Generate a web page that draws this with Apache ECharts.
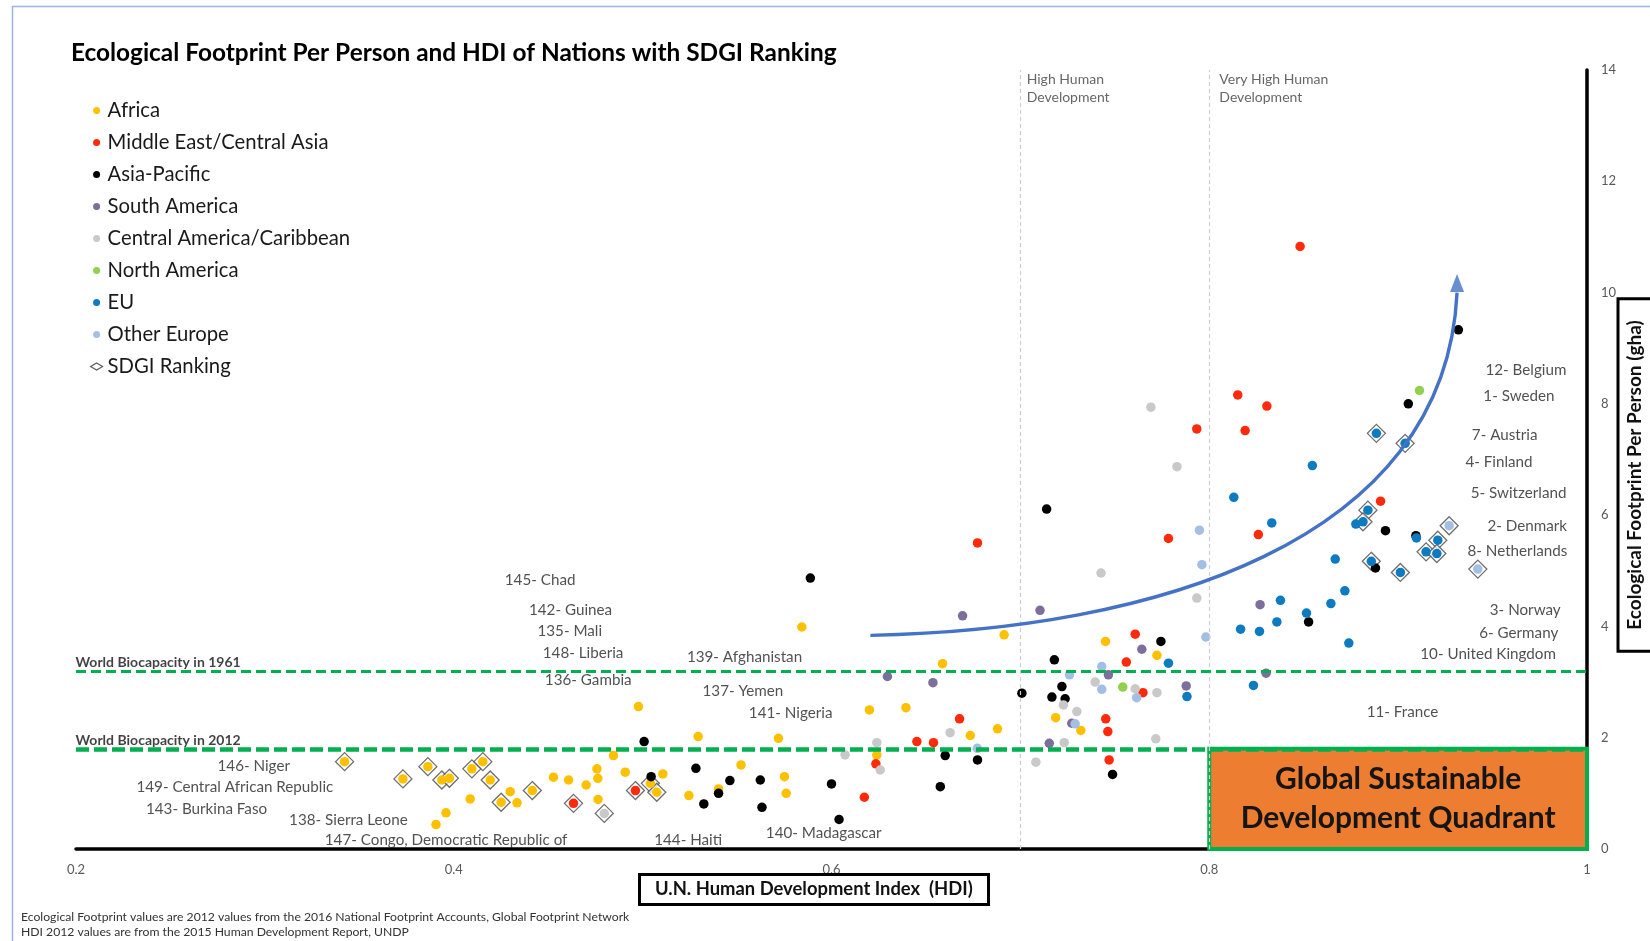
<!DOCTYPE html>
<html><head><meta charset="utf-8">
<script src="https://cdn.jsdelivr.net/npm/echarts@6/dist/echarts.min.js"></script>
<style>html,body{margin:0;padding:0;background:#fff}#c{width:1650px;height:941px}</style>
</head><body><div id="c"></div>
<script>
const F = 'Lato';
// ---- data (HDI, Ecological footprint gha) ----
const africa = [[0.3422,1.57],[0.3731,1.26],[0.3863,1.48],[0.3937,1.24],[0.3977,1.27],[0.4096,1.44],[0.4154,1.57],[0.4193,1.24],[0.4251,0.84],[0.4416,1.05],[0.5041,1.18],[0.5075,1.02],
  [0.3906,0.44],[0.3959,0.65],[0.4087,0.90],[0.4299,1.03],[0.4335,0.83],[0.4528,1.29],[0.4608,1.24],[0.4701,1.15],[0.4758,1.44],[0.4763,1.27],[0.4764,0.89],[0.4846,1.68],[0.4908,1.38],[0.4978,2.56],[0.5107,1.35],[0.5245,0.96],[0.5294,2.02],[0.5402,1.08],[0.5521,1.51],[0.5719,1.99],[0.5751,1.30],[0.5760,1.00],[0.5843,3.99],[0.6201,2.50],[0.6240,1.69],[0.6394,2.54],[0.6588,3.33],[0.6735,2.04],[0.6879,2.16],[0.6914,3.85],[0.7187,2.36],[0.7320,2.13],[0.7451,3.73],[0.7723,3.48]];
const middleEast = [[0.4634,0.82],[0.4962,1.05],[0.6174,0.93],[0.6235,1.53],[0.6452,1.93],[0.6540,1.91],[0.6678,2.34],[0.6773,5.50],[0.7452,2.34],[0.7463,2.11],[0.7470,1.60],[0.7561,3.36],[0.7608,3.86],[0.7649,2.81],[0.7784,5.58],[0.7934,7.55],[0.8151,8.16],[0.8190,7.52],[0.8260,5.65],[0.8305,7.96],[0.8481,10.83],[0.8907,6.25]];
const asiaPacific = [[0.5008,1.93],[0.5045,1.30],[0.5282,1.45],[0.5324,0.81],[0.5402,1.00],[0.5462,1.23],[0.5623,1.24],[0.5632,0.75],[0.5888,4.87],[0.6000,1.17],[0.6040,0.53],[0.6576,1.12],[0.6602,1.68],[0.6773,1.60],[0.7008,2.80],[0.7139,6.11],[0.7167,2.73],[0.7180,3.40],[0.7220,2.92],[0.7237,2.70],[0.7488,1.34],[0.7744,3.73],[0.8526,4.08],[0.8880,5.05],[0.8933,5.72],[0.9054,8.00],[0.9094,5.63],[0.9319,9.33]];
const southAmerica = [[0.6296,3.10],[0.6537,2.99],[0.6694,4.19],[0.7104,4.29],[0.7153,1.90],[0.7272,2.26],[0.7466,3.13],[0.7643,3.59],[0.7878,2.93],[0.8269,4.39],[0.8301,3.16]];
const centralAmerica = [[0.4797,0.64],[0.6072,1.69],[0.6240,1.91],[0.6258,1.42],[0.6628,2.09],[0.7082,1.56],[0.7228,2.59],[0.7232,1.91],[0.7299,2.47],[0.7396,3.00],[0.7427,4.96],[0.7608,2.88],[0.7691,7.94],[0.7717,1.98],[0.7723,2.81],[0.7829,6.87],[0.7934,4.51]];
const northAmerica = [[0.7542,2.91],[0.9113,8.24]];
const eu = [[0.7784,3.34],[0.7882,2.74],[0.8130,6.32],[0.8166,3.95],[0.8234,2.94],[0.8266,3.91],[0.8331,5.86],[0.8358,4.08],[0.8377,4.47],[0.8515,4.24],[0.8546,6.89],[0.8644,4.41],[0.8667,5.21],[0.8718,4.64],[0.8739,3.70],[0.8776,5.84],[0.8814,5.88],[0.8840,6.09],[0.8858,5.17],[0.8885,7.47],[0.9012,4.97],[0.9037,7.29],[0.9097,5.59],[0.9148,5.34],[0.9205,5.31],[0.9210,5.55]];
const otherEurope = [[0.6772,1.81],[0.7260,3.13],[0.7290,2.25],[0.7431,3.28],[0.7431,2.87],[0.7616,2.72],[0.7948,5.73],[0.7961,5.11],[0.7982,3.81],[0.9270,5.81],[0.9422,5.03]];
const sdgi = [[0.3422,1.57],[0.3731,1.26],[0.3863,1.48],[0.3937,1.24],[0.3977,1.27],[0.4096,1.44],[0.4154,1.57],[0.4193,1.24],[0.4251,0.84],[0.4416,1.05],[0.4634,0.82],[0.4797,0.64],[0.4962,1.05],[0.5041,1.18],[0.5075,1.02],
  [0.8885,7.47],[0.9037,7.29],[0.8840,6.09],[0.8814,5.88],[0.8858,5.17],[0.9012,4.97],[0.9270,5.81],[0.9210,5.55],[0.9148,5.34],[0.9205,5.31],[0.9422,5.03]];
const countryLabels = [['145- Chad',0.4273,4.82],['142- Guinea',0.4401,4.28],['135- Mali',0.4446,3.90],['148- Liberia',0.4474,3.52],['136- Gambia',0.4485,3.03],
  ['139- Afghanistan',0.5237,3.44],['137- Yemen',0.5320,2.82],['141- Nigeria',0.5565,2.44],
  ['146- Niger',0.2752,1.48],['149- Central African Republic',0.2323,1.10],['143- Burkina Faso',0.2373,0.70],['138- Sierra Leone',0.3131,0.51],['147- Congo, Democratic Republic of',0.3320,0.15],['144- Haiti',0.5064,0.15],['140- Madagascar',0.5655,0.28],
  ['12- Belgium',0.9465,8.59],['1- Sweden',0.9454,8.13],['7- Austria',0.9393,7.43],['4- Finland',0.9359,6.94],['5- Switzerland',0.9387,6.38],['2- Denmark',0.9476,5.79],['8- Netherlands',0.9370,5.35],['3- Norway',0.9488,4.28],['6- Germany',0.9432,3.88],['10- United Kingdom',0.9120,3.50],['11- France',0.8836,2.46]];
const bandNotes = [['High Human\nDevelopment',0.7036,13.65],['Very High Human\nDevelopment',0.8056,13.65]];
const biocapacity = [['World Biocapacity in 1961',3.2],['World Biocapacity in 2012',1.8]];
const devThresholds = [0.7, 0.8];
// trend arrow (annotation): start, two control points, end, in (HDI, gha)
const arrowStart = [0.6206,3.84];
const arrowCtrl1 = [0.7687,3.94];
const arrowCtrl2 = [0.9249,5.47];
const arrowEnd = [0.9312,10.0];
const arrowTip = [0.9312,10.17];
const quadrantText = 'Global Sustainable\nDevelopment Quadrant';
const regionNames = ['Africa','Middle East/Central Asia','Asia-Pacific','South America','Central America/Caribbean','North America','EU','Other Europe'];
const regionData = [africa, middleEast, asiaPacific, southAmerica, centralAmerica, northAmerica, eu, otherEurope];
const regionColors = ['#FFC000','#FF2A0A','#000000','#7D6E9C','#C9C9C9','#92D050','#0C7BC0','#A3BFE3'];

const chart = echarts.init(document.getElementById('c'));
const series = [];
series.push({name:'SDGI Ranking', type:'scatter', symbol:'diamond', symbolSize:18, data:sdgi, z:2,
  itemStyle:{color:'rgba(255,255,255,0.9)', borderColor:'#4a4a4a', borderWidth:1.3}});
regionNames.forEach((n,i)=>series.push({name:n, type:'scatter', symbolSize:9.5, data:regionData[i], z:3,
  itemStyle:{color:regionColors[i], opacity:1}}));
series.push({name:'labels', type:'scatter', symbolSize:1, silent:true, z:5,
  itemStyle:{color:'rgba(0,0,0,0)'},
  data: countryLabels.map(l=>({value:[l[1],l[2]], name:l[0]})),
  label:{show:true, position:[0,0], align:'left', verticalAlign:'middle', formatter:p=>p.name,
    fontFamily:F, fontSize:15.2, color:'#262626'},
  markLine:{silent:true, symbol:['none','none'], label:{show:false},
    data:[
      ...devThresholds.map(v=>({xAxis:v, lineStyle:{color:'#cfcfcf', type:[4,3], width:1.2}})),
      {yAxis:biocapacity[0][1], lineStyle:{color:'#00B050', type:[10,5], width:3}},
      {yAxis:biocapacity[1][1], lineStyle:{color:'#00B050', type:[13,5], width:4.5}}
    ]},
  markArea:{silent:true, itemStyle:{color:'#ED7D31', borderColor:'#00B050', borderWidth:4},
    label:{show:true, position:'inside', formatter:quadrantText, fontFamily:F, fontSize:30, fontWeight:'bold', lineHeight:39, color:'#151515'},
    data:[[{xAxis:0.8, yAxis:0},{xAxis:1, yAxis:biocapacity[1][1]}]]}
});
series.push({name:'bands', type:'scatter', symbolSize:1, silent:true, z:5, itemStyle:{color:'rgba(0,0,0,0)'},
  data: bandNotes.map(l=>({value:[l[1],l[2]], name:l[0]})),
  label:{show:true, position:[0,0], align:'left', verticalAlign:'middle', formatter:p=>p.name,
    fontFamily:F, fontSize:14, lineHeight:18, color:'#404040'}});
series.push({name:'biocap', type:'scatter', symbolSize:1, silent:true, z:5, itemStyle:{color:'rgba(0,0,0,0)'},
  data: biocapacity.map(l=>({value:[0.2,l[1]], name:l[0]})),
  label:{show:true, position:[0,-1], align:'left', verticalAlign:'bottom', formatter:p=>p.name,
    fontFamily:F, fontSize:14, fontWeight:'bold', color:'#111'}});
series.push({name:'arrow', type:'custom', silent:true, z:10,
  dimensions:['x0','y0','x1','y1','x2','y2','x3','y3'],
  encode:{x:[0,2,4,6], y:[1,3,5,7]},
  data:[[...arrowStart, ...arrowCtrl1, ...arrowCtrl2, ...arrowEnd]],
  renderItem:(params, api)=>{
    const p0 = api.coord([api.value(0), api.value(1)]);
    const c1 = api.coord([api.value(2), api.value(3)]);
    const c2 = api.coord([api.value(4), api.value(5)]);
    const p3 = api.coord([api.value(6), api.value(7)]);
    return {type:'bezierCurve', shape:{x1:p0[0], y1:p0[1], cpx1:c1[0], cpy1:c1[1], cpx2:c2[0], cpy2:c2[1], x2:p3[0], y2:p3[1]},
      style:{stroke:'#4472C4', lineWidth:3.4, fill:'none'}};
  }});
series.push({name:'arrowhead', type:'scatter', silent:true, z:11, symbol:'triangle', symbolSize:[14,18],
  itemStyle:{color:'#4472C4'}, data:[arrowTip]});

chart.setOption({
  animation:false,
  backgroundColor:'#ffffff',
  title:[
    {text:'Ecological Footprint Per Person and HDI of Nations with SDGI Ranking', left:71, top:41, padding:0,
     textStyle:{fontFamily:F, fontSize:24.4, fontWeight:'bold', color:'#000'}},
    {text:'U.N. Human Development Index  (HDI)', left:639, top:874, padding:[5,16,5,16], borderColor:'#000', borderWidth:3,
     textStyle:{fontFamily:F, fontSize:18.4, fontWeight:'bold', color:'#111', lineHeight:21}},
    {text:'Ecological Footprint values are 2012 values from the 2016 National Footprint Accounts, Global Footprint Network\nHDI 2012 values are from the 2015 Human Development Report, UNDP',
     left:21, top:910, padding:0, textStyle:{fontFamily:F, fontSize:12.2, fontWeight:'normal', color:'#333', lineHeight:15}}
  ],
  legend:{orient:'vertical', left:90, top:100, padding:0, itemWidth:12, itemHeight:7, itemGap:11, selectedMode:false,
    textStyle:{fontFamily:F, fontSize:20.3, color:'#1a1a1a', lineHeight:21},
    data:[...regionNames.map(n=>({name:n, icon:'circle'})), {name:'SDGI Ranking', icon:'diamond', itemStyle:{color:'#fff', borderColor:'#333', borderWidth:1.2}}]},
  grid:{left:76, right:63, top:70, bottom:92},
  xAxis:{type:'value', min:0.2, max:1, interval:0.2,
    axisLine:{lineStyle:{color:'#000', width:3.5}}, axisTick:{show:false}, splitLine:{show:false},
    axisLabel:{color:'#595959', fontFamily:F, fontSize:13, margin:14, formatter:v=>String(Math.round(v*10)/10)}},
  yAxis:{type:'value', position:'right', min:0, max:14, interval:2,
    axisLine:{show:true, lineStyle:{color:'#000', width:3.5}}, axisTick:{show:false}, splitLine:{show:false},
    axisLabel:{color:'#595959', fontFamily:F, fontSize:13, margin:14}},
  graphic:[
    {type:'rect', left:10, top:4, shape:{width:1700, height:1000}, style:{fill:'none', stroke:'#9DB4DE', lineWidth:1.5}, silent:true},
    {type:'text', x:1635, y:475, rotation:Math.PI/2, silent:true,
     style:{text:'Ecological Footprint Per Person (gha)', font:'bold 19px Lato', fill:'#111', align:'center', verticalAlign:'middle',
       borderColor:'#000', borderWidth:3, padding:[6,20,6,20], backgroundColor:'#fff'}}
  ],
  series
});
</script></body></html>
